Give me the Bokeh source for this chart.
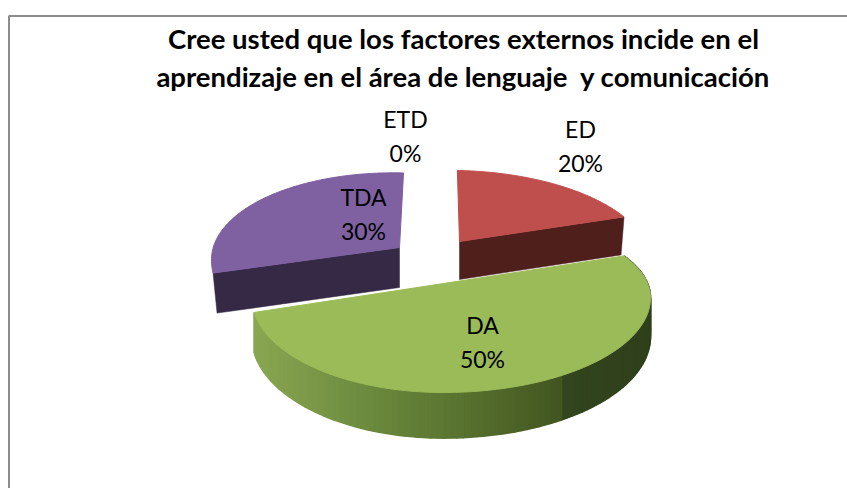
import math
from bokeh.plotting import figure
from bokeh.models import Range1d
from bokeh.core.properties import value
from bokeh.embed import file_html
from bokeh.resources import INLINE

categories = ["ED", "DA", "TDA", "ETD"]
percents = [20, 50, 30, 0]
title_lines = ["Cree usted que los factores externos incide en el",
               "aprendizaje en el área de lenguaje\u00a0 y comunicación"]

# layout (image pixels)
TOP_COLORS = {"ED": "#BE4F4C", "DA": "#9BBB59", "TDA": "#7F60A1"}
SIDE_COLORS = {"ED": "#4F1F1C", "TDA": "#352945"}
SLICE_POS = {"ED": dict(ax=459, ay=241, sx=0.925, sy=1.0, k=-0.03, m=0.018, d=38),
             "DA": dict(ax=443, ay=283, sx=1.01, sy=1.0, k=0.0, m=0.0, d=38),
             "TDA": dict(ax=399, ay=247, sx=0.985, sy=1.05, k=0.054, m=0.026, d=40)}
LABEL_POS = {"ED": (580, 145), "DA": (482, 341), "TDA": (363, 213), "ETD": (405, 135)}
GRAD = [(250, (0x8A, 0xA8, 0x52)), (350, (0x70, 0x8E, 0x40)), (450, (0x5A, 0x75, 0x30)),
        (561, (0x42, 0x55, 0x20)), (562, (0x33, 0x45, 0x1E)), (660, (0x2E, 0x3F, 0x1B))]
A_R, A_L, B_T, B_B, CY_OFF = 205.0, 190.0, 85.0, 95.0, 14.0
RAY_A, RAY_B = 200.0, 95.0


def rim(theta, s):
    dx, dy = math.sin(theta) * RAY_A, -math.cos(theta) * RAY_B

    def f(t):
        x, y = dx * t, dy * t
        a = A_R if x >= 0 else A_L
        b = B_B if y >= CY_OFF else B_T
        return (x / a) ** 2 + ((y - CY_OFF) / b) ** 2 - 1

    lo, hi = 0.0, 3.0
    for _ in range(50):
        mid = (lo + hi) / 2
        if f(mid) < 0:
            lo = mid
        else:
            hi = mid
    x, y = dx * lo * s["sx"], dy * lo * s["sy"]
    x, y = x - y * s["k"], y + x * s["m"]
    return s["ax"] + x, s["ay"] + y


def side_color(x):
    for (x0, c0), (x1, c1) in zip(GRAD, GRAD[1:]):
        if x <= x1:
            u = max(0.0, (x - x0) / (x1 - x0))
            return "#%02x%02x%02x" % tuple(round(p + (q - p) * u) for p, q in zip(c0, c1))
    return "#%02x%02x%02x" % GRAD[-1][1]


p = figure(width=847, height=488, output_backend="svg", toolbar_location=None,
           x_range=Range1d(0, 847), y_range=Range1d(488, 0), min_border=0,
           outline_line_color=None, background_fill_color="white")
p.axis.visible = False
p.grid.visible = False

# frame
p.line([8.5, 8.5, 847], [488, 15.5, 15.5], line_color="#8C8C8C", line_width=2)

spans = {}
cum = 0
for c, v in zip(categories, percents):
    spans[c] = (math.radians(cum * 3.6), math.radians((cum + v) * 3.6))
    cum += v


def top_face(c):
    s = SLICE_POS[c]
    a0, a1 = spans[c]
    n = max(2, int((a1 - a0) * 60))
    pts = [rim(a0 + (a1 - a0) * i / n, s) for i in range(n + 1)]
    xs = [s["ax"]] + [q[0] for q in pts]
    ys = [s["ay"]] + [q[1] for q in pts]
    p.patch(xs, ys, fill_color=TOP_COLORS[c], line_color=TOP_COLORS[c], line_width=1)


def cut_face(c, theta):
    s = SLICE_POS[c]
    x, y = rim(theta, s)
    d = s["d"]
    shift = 4 if x < s["ax"] else -3
    p.patch([s["ax"], x, x + shift, s["ax"]], [s["ay"], y, y + d, s["ay"] + d],
            fill_color=SIDE_COLORS[c], line_color=SIDE_COLORS[c], line_width=0.5)


# purple slice
cut_face("TDA", spans["TDA"][0])
top_face("TDA")
# red slice
cut_face("ED", spans["ED"][1])
top_face("ED")
# green slice with a shaded rim
s = SLICE_POS["DA"]
a0, a1 = spans["DA"]
n = 110
prev = None
for i in range(n + 1):
    th = a0 + (a1 - a0) * i / n
    x, y = rim(th, s)
    front = max(0.0, (y - s["ay"]) / 100)
    d = s["d"] + 7 * front
    if prev:
        xm = (x + prev[0]) / 2
        col = side_color(xm)
        p.patch([prev[0], x, x, prev[0]], [prev[1], y, y + d, prev[1] + prev[2]],
                fill_color=col, line_color=col, line_width=1.5)
    prev = (x, y, d)
top_face("DA")

# texts
FONT = value("Lato")
for line, yy in zip(title_lines, (38, 76)):
    p.text([463], [yy], text=[line], text_font=FONT, text_font_style="bold",
           text_font_size="27.5px", text_align="center", text_baseline="middle", text_color="black")
for c, v in zip(categories, percents):
    x, y = LABEL_POS[c]
    p.text([x], [y - 17], text=[c], text_font=FONT, text_font_size="23px",
           text_align="center", text_baseline="middle", text_color="black")
    p.text([x], [y + 17], text=[f"{v}%"], text_font=FONT, text_font_size="23px",
           text_align="center", text_baseline="middle", text_color="black")

open("out.html", "w").write(file_html(p, INLINE))
